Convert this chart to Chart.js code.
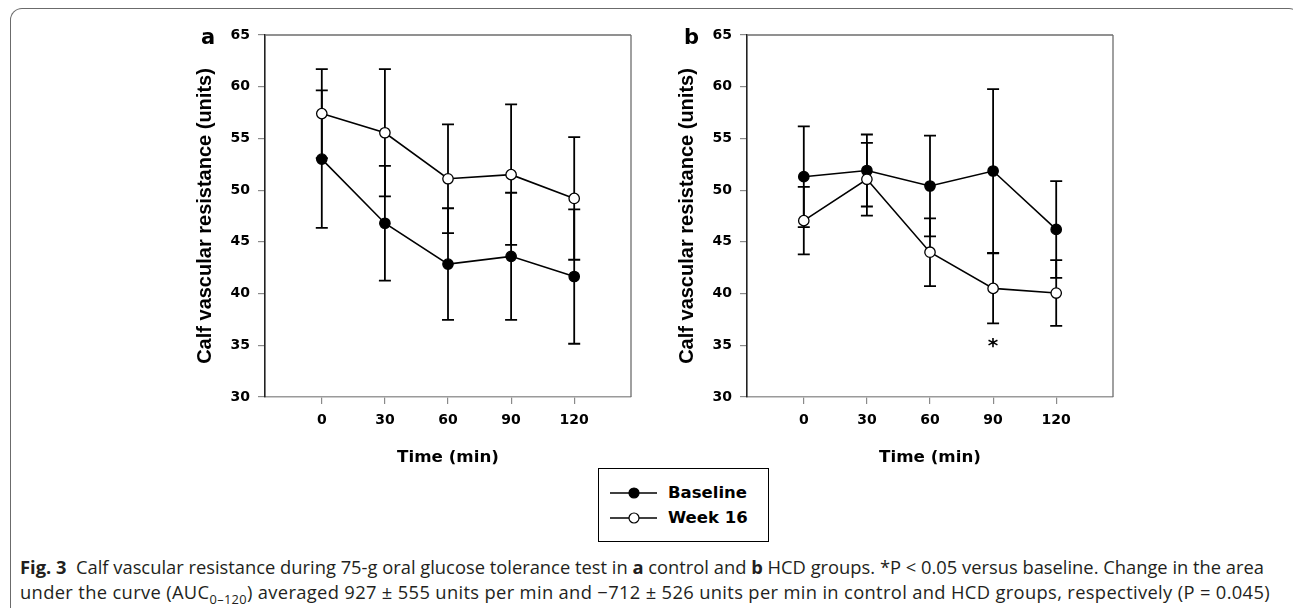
<!DOCTYPE html>
<html><head><meta charset="utf-8">
<script src="https://cdn.jsdelivr.net/npm/chart.js@4.4.1/dist/chart.umd.min.js"></script>
<style>
html,body{margin:0;padding:0;background:#fff;width:1293px;height:608px;overflow:hidden;position:relative;}
.frame{position:absolute;left:10px;top:8px;width:1291px;height:700px;border-top:1.5px solid #6b6b6b;border-left:1.5px solid #6b6b6b;border-right:1.5px solid #6b6b6b;border-top-left-radius:12px;border-top-right-radius:12px;box-sizing:border-box;}
.cbox{position:absolute;top:0;width:500px;height:480px;}
.plabel{position:absolute;font:bold 21px "DejaVu Sans";line-height:21px;color:#000;}
.legend{position:absolute;left:598px;top:468px;width:171px;height:74px;border:1.5px solid #000;box-sizing:border-box;background:#fff;}
.lrow{position:absolute;left:0;height:20px;width:168px;}
.lrow svg{position:absolute;left:11px;top:0;}
.lrow span{position:absolute;left:69px;top:0;line-height:20px;font:bold 16.5px "DejaVu Sans";color:#000;white-space:nowrap;}
.cap{position:absolute;left:20px;font-family:"Open Sans";color:#231f20;white-space:nowrap;line-height:20px;}
</style></head>
<body>
<div class="frame"></div>
<div class="cbox" style="left:150px"><canvas id="ca"></canvas></div>
<div class="cbox" style="left:632px"><canvas id="cb"></canvas></div>
<div class="plabel" style="left:201px;top:27px">a</div>
<div class="plabel" style="left:684px;top:27px">b</div>
<div class="legend">
  <div class="lrow" style="top:14px">
    <svg width="50" height="20"><line x1="0" y1="10" x2="47" y2="10" stroke="#000" stroke-width="1.6"/><circle cx="24" cy="10" r="5" fill="#000" stroke="#000" stroke-width="1.2"/></svg>
    <span id="lg0"></span></div>
  <div class="lrow" style="top:39px">
    <svg width="50" height="20"><line x1="0" y1="10" x2="47" y2="10" stroke="#000" stroke-width="1.6"/><circle cx="24" cy="10" r="5" fill="#fff" stroke="#000" stroke-width="1.2"/></svg>
    <span id="lg1"></span></div>
</div>
<div class="cap" id="cap1" style="top:557px"><b>Fig. 3</b>&nbsp;&nbsp;Calf vascular resistance during 75-g oral glucose tolerance test in <b>a</b> control and <b>b</b> HCD groups. *P &lt; 0.05 versus baseline. Change in the area</div>
<div class="cap" id="cap2" style="top:582px">under the curve (AUC<sub style="font-size:70%;line-height:0">0–120</sub>) averaged 927 ± 555 units per min and −712 ± 526 units per min in control and HCD groups, respectively (P = 0.045)</div>
<script>
// ---- data ----
const times = [0, 30, 60, 90, 120];
const xTicks = [0, 30, 60, 90, 120];
const yTicks = [30, 35, 40, 45, 50, 55, 60, 65];
const seriesNames = ['Baseline', 'Week 16'];
// panel a (control)
const aBaseline    = [53.0, 46.8, 42.85, 43.6, 41.65];
const aBaselineErr = [6.65, 5.55, 5.4, 6.15, 6.5];
const aWeek16      = [57.4, 55.55, 51.1, 51.5, 49.2];
const aWeek16Err   = [4.3, 6.15, 5.25, 6.8, 5.93];
// panel b (HCD)
const bBaseline    = [51.3, 51.9, 50.4, 51.85, 46.2];
const bBaselineErr = [4.87, 3.48, 4.87, 7.92, 4.68];
const bWeek16      = [47.05, 51.05, 44.0, 40.5, 40.05];
const bWeek16Err   = [3.26, 3.52, 3.28, 3.38, 3.18];
// significance markers (panel b)
const bStarTimes  = [90];
const bStarValues = [35.2];

document.getElementById('lg0').textContent = seriesNames[0];
document.getElementById('lg1').textContent = seriesNames[1];

const framePlugin = {
  id: 'frame',
  afterDraw(chart) {
    const {ctx, chartArea: a} = chart;
    ctx.save();
    ctx.strokeStyle = '#6e6e6e'; ctx.lineWidth = 1.3;
    ctx.beginPath();
    ctx.moveTo(a.left, a.top); ctx.lineTo(a.right, a.top);
    ctx.moveTo(a.right, a.top); ctx.lineTo(a.right, a.bottom);
    ctx.stroke();
    ctx.restore();
  }
};
const errorBarPlugin = {
  id: 'errbars',
  beforeDatasetsDraw(chart) {
    const {ctx, scales: {x, y}} = chart;
    ctx.save();
    ctx.strokeStyle = '#000'; ctx.lineWidth = 1.8;
    chart.data.datasets.forEach(ds => {
      ds.data.forEach((p, i) => {
        const e = ds.errors[i];
        const px = x.getPixelForValue(p.x);
        const yt = y.getPixelForValue(p.y + e), yb = y.getPixelForValue(p.y - e);
        ctx.beginPath();
        ctx.moveTo(px, yt); ctx.lineTo(px, yb);
        ctx.moveTo(px - 6, yt); ctx.lineTo(px + 6, yt);
        ctx.moveTo(px - 6, yb); ctx.lineTo(px + 6, yb);
        ctx.stroke();
      });
    });
    ctx.restore();
  }
};
const starPlugin = {
  id: 'stars',
  afterDatasetsDraw(chart, args, opts) {
    if (!opts.t || !opts.t.length) return;
    const {ctx, scales: {x, y}} = chart;
    ctx.save();
    ctx.fillStyle = '#000';
    ctx.font = 'bold 20px "DejaVu Sans"';
    ctx.textAlign = 'center';
    ctx.textBaseline = 'alphabetic';
    opts.t.forEach((t, i) => {
      const m = ctx.measureText('*');
      const px = x.getPixelForValue(t), py = y.getPixelForValue(opts.v[i]);
      ctx.fillText('*', px, py + (m.actualBoundingBoxAscent - m.actualBoundingBoxDescent) / 2);
    });
    ctx.restore();
  }
};

function ds(label, vals, errs, fillCol, order) {
  return {
    label, data: times.map((t, i) => ({x: t, y: vals[i]})), errors: errs, order,
    borderColor: '#000', borderWidth: 1.6, tension: 0, fill: false,
    pointRadius: 5.2, pointHoverRadius: 5.2, pointBackgroundColor: fillCol,
    pointBorderColor: '#000', pointBorderWidth: 1.3
  };
}

function makeChart(id, base, baseErr, wk, wkErr, starT, starV) {
  return new Chart(document.getElementById(id), {
    type: 'line',
    data: {datasets: [
      ds(seriesNames[0], base, baseErr, '#000', 1),
      ds(seriesNames[1], wk, wkErr, '#fff', 0)
    ]},
    options: {
      responsive: true, maintainAspectRatio: false, animation: false,
      layout: {padding: {top: 35, right: 19, left: 0, bottom: 0}},
      plugins: {legend: {display: false}, tooltip: {enabled: false}, stars: {t: starT, v: starV}},
      scales: {
        x: {
          type: 'linear', min: -27, max: 147,
          afterBuildTicks: s => { s.ticks = xTicks.map(v => ({value: v})); },
          afterFit: s => { s.height = 83; },
          grid: {drawOnChartArea: false, drawTicks: true, tickLength: 7, color: '#8a8a8a', lineWidth: 1.2},
          border: {display: true, color: '#9a9a9a', width: 1.6},
          ticks: {font: {family: 'DejaVu Sans', weight: 'bold', size: 14}, color: '#000', padding: 8, maxRotation: 0, autoSkip: false},
          title: {display: true, text: 'Time (min)', color: '#000',
                  font: {family: 'DejaVu Sans', weight: 'bold', size: 16.7}, padding: {top: 0, bottom: 12}}
        },
        y: {
          type: 'linear', min: 30, max: 65,
          afterBuildTicks: s => { s.ticks = yTicks.map(v => ({value: v})); },
          afterFit: s => { s.width = 115; },
          grid: {drawOnChartArea: false, drawTicks: true, tickLength: 7, color: '#8a8a8a', lineWidth: 1.2},
          border: {display: true, color: '#222', width: 1.6},
          ticks: {font: {family: 'DejaVu Sans', weight: 'bold', size: 14}, color: '#000', padding: 8, autoSkip: false},
          title: {display: true, text: 'Calf vascular resistance (units)', color: '#000',
                  font: {family: 'Liberation Sans', weight: 'bold', size: 20}, padding: {top: 43, bottom: 0}}
        }
      }
    },
    plugins: [framePlugin, errorBarPlugin, starPlugin]
  });
}

makeChart('ca', aBaseline, aBaselineErr, aWeek16, aWeek16Err, [], []);
makeChart('cb', bBaseline, bBaselineErr, bWeek16, bWeek16Err, bStarTimes, bStarValues);

// fit caption font so that the lines span the reference widths
(function fitCaption() {
  const c1 = document.getElementById('cap1'), c2 = document.getElementById('cap2');
  let fs = 15;
  for (let k = 0; k < 6; k++) {
    c1.style.fontSize = fs + 'px';
    const w = c1.getBoundingClientRect().width;
    fs = fs * 1243 / w;
  }
  c1.style.fontSize = fs + 'px';
  c2.style.fontSize = fs + 'px';
  const w2 = c2.getBoundingClientRect().width;
  const n2 = c2.textContent.length;
  c2.style.letterSpacing = ((1250 - w2) / n2) + 'px';
})();
</script>
</body></html>
